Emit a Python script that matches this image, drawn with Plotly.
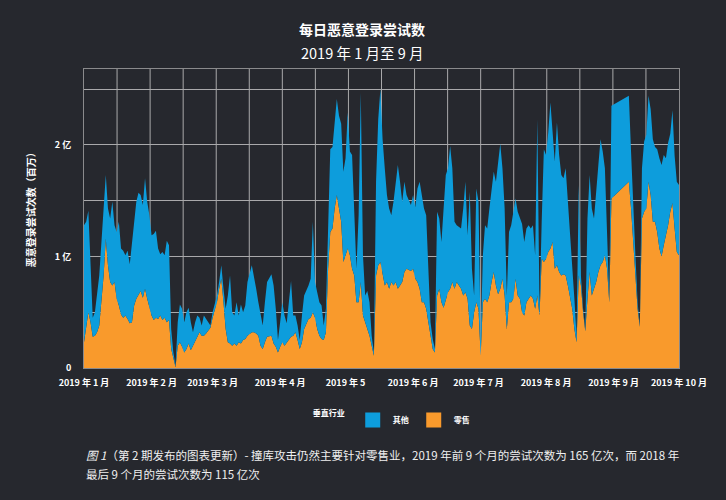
import plotly.graph_objects as go
import pandas as pd

# ---------------- data (values in millions of attempts) ----------------
day_offset = [0, 1, 2, 3, 4, 5, 6, 7, 8, 9, 10, 11, 12, 13, 14, 15, 16, 17, 18, 19,
              20, 21, 22, 23, 24, 25, 26, 27, 28, 29, 30, 31, 32, 33, 34, 35, 36, 37, 38, 39,
              40, 41, 42, 43, 44, 45, 46, 47, 48, 49, 50, 51, 52, 53, 54, 55, 56, 58, 59, 61,
              62, 63, 64, 65, 66, 67, 68, 69, 70, 71, 72, 73, 74, 75, 77, 78, 79, 80, 81, 82,
              83, 84, 86, 87, 88, 89, 90, 91, 92, 93, 94, 95, 96, 97, 98, 99, 100, 101, 103, 104,
              105, 106, 107, 108, 109, 110, 111, 112, 113, 114, 115, 116, 117, 118, 119, 120, 121, 122, 123, 124,
              125, 126, 127, 128, 129, 130, 131, 132, 133, 134, 135, 136, 137, 138, 139, 140, 141, 142, 143, 144,
              145, 146, 147, 148, 150, 151, 152, 153, 154, 155, 156, 157, 158, 159, 160, 161, 162, 163, 164, 165,
              166, 167, 168, 169, 170, 171, 173, 174, 175, 176, 177, 178, 179, 180, 181, 182, 183, 184, 185, 186,
              187, 188, 189, 190, 191, 192, 193, 194, 195, 196, 197, 198, 199, 200, 201, 202, 203, 204, 205, 206,
              207, 208, 209, 210, 211, 212, 213, 214, 215, 216, 217, 218, 219, 220, 221, 222, 223, 224, 225, 226,
              227, 228, 229, 230, 231, 232, 233, 234, 235, 236, 237, 238, 239, 240, 241, 242, 250, 251, 252, 253,
              254, 255, 256, 257, 258, 259, 260, 261, 262, 263, 264, 265, 266, 267, 268, 269, 270, 271, 272, 273]

retail = [23, 35, 50, 41, 28, 29, 32, 38, 59, 83, 116, 92, 77, 74, 77, 62, 56, 48, 45, 47,
          44, 40, 41, 56, 62, 66, 69, 63, 71, 62, 53, 47, 43, 45, 44, 47, 43, 45, 41, 43,
          17, 8, 1, 20, 23, 19, 14, 17, 22, 16, 20, 25, 29, 32, 29, 29, 31, 36, 45, 59,
          71, 80, 59, 35, 23, 22, 20, 22, 20, 23, 22, 25, 26, 29, 32, 32, 31, 29, 20, 17,
          23, 28, 29, 22, 19, 14, 19, 23, 20, 23, 25, 28, 29, 32, 25, 17, 23, 35, 44, 45,
          50, 45, 35, 29, 26, 25, 32, 89, 122, 125, 143, 155, 143, 131, 95, 101, 107, 101, 89, 83,
          59, 59, 77, 47, 41, 35, 29, 20, 11, 83, 92, 95, 83, 74, 77, 71, 77, 74, 77, 71,
          74, 77, 86, 89, 87, 89, 80, 77, 71, 59, 59, 53, 41, 29, 17, 14, 65, 71, 59, 54,
          62, 68, 71, 77, 71, 77, 71, 65, 68, 62, 38, 35, 50, 59, 53, 11, 59, 62, 59, 65,
          77, 86, 74, 66, 71, 80, 65, 35, 59, 59, 62, 80, 65, 62, 50, 47, 59, 62, 65, 62,
          53, 65, 47, 98, 95, 98, 104, 107, 113, 89, 92, 86, 83, 84, 83, 74, 62, 53, 35, 23,
          83, 74, 50, 33, 62, 86, 65, 71, 77, 86, 92, 95, 101, 89, 59, 152, 167, 143, 107, 83,
          53, 37, 134, 140, 143, 167, 155, 131, 131, 122, 107, 100, 110, 118, 128, 140, 148, 125, 104, 101]

other = [105, 96, 91, 48, 17, 21, 33, 45, 54, 60, 57, 51, 57, 75, 51, 60, 75, 59, 60, 54,
         61, 53, 72, 75, 87, 91, 86, 83, 99, 87, 84, 72, 77, 78, 63, 55, 61, 56, 73, 67,
         18, 6, 1, 21, 34, 34, 27, 33, 32, 25, 12, 16, 18, 13, 9, 18, 13, 2, 5, 6,
         6, 12, 12, 18, 42, 61, 30, 25, 39, 24, 35, 25, 30, 48, 60, 51, 40, 30, 27, 21,
         36, 49, 55, 52, 34, 11, 22, 36, 27, 17, 34, 50, 18, 15, 13, 8, 24, 30, 30, 35,
         81, 32, 33, 30, 30, 13, 21, 36, 74, 73, 77, 86, 83, 88, 81, 87, 122, 93, 102, 54,
         30, 78, 170, 54, 24, 34, 30, 9, 3, 84, 131, 155, 122, 105, 78, 72, 60, 75, 87, 111,
         93, 72, 81, 66, 59, 66, 64, 84, 96, 96, 84, 84, 48, 12, 9, 3, 75, 63, 54, 86,
         111, 111, 128, 102, 60, 51, 54, 78, 99, 57, 120, 54, 15, 102, 96, 12, 42, 66, 66, 78,
         84, 90, 93, 116, 130, 99, 78, 30, 63, 69, 78, 72, 75, 72, 79, 66, 66, 66, 60, 66,
         48, 158, 6, 33, 101, 93, 107, 131, 95, 96, 128, 105, 90, 86, 96, 78, 63, 36, 27, 6,
         81, 9, 3, 2, 72, 87, 78, 63, 84, 96, 113, 99, 78, 36, 3, 83, 77, 51, 36, 18,
         6, 1, 45, 63, 66, 77, 77, 74, 67, 74, 81, 82, 81, 70, 74, 70, 83, 65, 63, 63]

series_names = ["其他", "零售"]
month_ticks = ["2019-01-01", "2019-02-01", "2019-03-01", "2019-04-01", "2019-05-01",
               "2019-06-01", "2019-07-01", "2019-08-01", "2019-09-01", "2019-10-01"]
month_labels = ["2019 年 1 月", "2019 年 2 月", "2019 年 3 月", "2019 年 4 月", "2019 年 5",
                "2019 年 6 月", "2019 年 7 月", "2019 年 8 月", "2019 年 9 月", "2019 年 10 月"]
y_tickvals = [0, 50, 100, 150, 200, 250]
y_ticktext = ["0", "", "1 亿", "", "2 亿", ""]

# ---------------- styling ----------------
BG = "#26282e"
BLUE = "#0d9ddc"
ORANGE = "#f99a2c"
GRID = "#a9a9ab"
TXT = "#ffffff"
FONT = "Noto Sans CJK SC"

dates = pd.Timestamp("2019-01-01") + pd.to_timedelta(day_offset, unit="D")

fig = go.Figure()
fig.add_trace(go.Scatter(x=dates, y=retail, stackgroup="one", mode="lines",
                         line=dict(width=0, color=ORANGE), fillcolor=ORANGE,
                         name=series_names[1], showlegend=False, hoverinfo="x+y"))
fig.add_trace(go.Scatter(x=dates, y=other, stackgroup="one", mode="lines",
                         line=dict(width=0, color=BLUE), fillcolor=BLUE,
                         name=series_names[0], showlegend=False, hoverinfo="x+y"))
# legend entries (square swatches)
for nm, col in zip(series_names, [BLUE, ORANGE]):
    fig.add_trace(go.Scatter(x=[None], y=[None], mode="markers", name="<b>" + nm + "</b>",
                             marker=dict(symbol="square", size=15, color=col)))

# vertical grid (18 equal divisions of the plot width)
shapes = []
for i in range(1, 18):
    shapes.append(dict(type="line", xref="x domain", yref="y domain",
                       x0=i / 18, x1=i / 18, y0=0, y1=1, layer="below",
                       line=dict(color=GRID, width=1)))

PW = 595.0  # plot width in px, for converting pixel offsets to paper units

fig.update_layout(
    width=726, height=500,
    paper_bgcolor=BG, plot_bgcolor=BG,
    margin=dict(l=84, r=47, t=69, b=132),
    font=dict(family=FONT, color=TXT, size=9),
    shapes=shapes,
    showlegend=True,
    legend=dict(orientation="h", xref="container", yref="container",
                x=0.428, xanchor="left", y=0.16, yanchor="middle",
                bgcolor="rgba(0,0,0,0)", traceorder="normal",
                font=dict(size=8, color=TXT, family=FONT),
                title=dict(text="<b>垂直行业</b>", side="left",
                           font=dict(size=8, color=TXT, family=FONT)),
                itemwidth=30, tracegroupgap=0),
    xaxis=dict(type="date", range=["2019-01-01", "2019-10-01"],
               tickmode="array", tickvals=month_ticks,
               ticktext=["<b>" + t + "</b>" for t in month_labels],
               tickfont=dict(size=9, color=TXT), ticks="", ticklabelstandoff=6,
               showgrid=False, zeroline=False, showline=True, mirror=True,
               linecolor="#8a8a8c", linewidth=1),
    yaxis=dict(range=[0, 268], tickmode="array", tickvals=y_tickvals,
               ticktext=["<b>" + t + "</b>" if t else "" for t in y_ticktext],
               tickfont=dict(size=9, color=TXT), ticks="", ticklabelstandoff=10,
               showgrid=True, gridcolor=GRID, gridwidth=1, zeroline=False,
               showline=True, mirror=True, linecolor="#8a8a8c", linewidth=1),
    hovermode="x unified",
)

anns = [
    dict(text="<b>每日恶意登录尝试数</b>", x=(362 - 84) / PW, xref="paper", y=1, yref="paper",
         yanchor="middle", yshift=40, showarrow=False, font=dict(size=14, color=TXT)),
    dict(text="2019 年 1 月至 9 月", x=(362 - 84) / PW, xref="paper", y=1, yref="paper",
         yanchor="middle", yshift=17, showarrow=False, font=dict(size=14.5, color=TXT)),
    dict(text="<b>恶意登录尝试次数（百万）</b>", x=(30 - 84) / PW, xref="paper",
         y=0.538, yref="paper", textangle=-90, showarrow=False,
         xanchor="center", yanchor="middle", font=dict(size=10, color=TXT)),
    dict(text="<i>图 1</i>（第 2 期发布的图表更新）- 撞库攻击仍然主要针对零售业，2019 年前 9 个月的尝试次数为 165 亿次，而 2018 年",
         x=0, xref="paper", xanchor="left", y=0, yref="paper", yanchor="middle",
         yshift=-87, showarrow=False, font=dict(size=11.5, color="#f0f0f0")),
    dict(text="最后 9 个月的尝试次数为 115 亿次",
         x=0, xref="paper", xanchor="left", y=0, yref="paper", yanchor="middle",
         yshift=-106, showarrow=False, font=dict(size=11.5, color="#f0f0f0")),
]
fig.update_layout(annotations=anns)

fig.write_html("out.html",
               config={"displayModeBar": False},
               post_script="document.body.style.margin='0';"
                           "document.body.style.background='" + BG + "';")
